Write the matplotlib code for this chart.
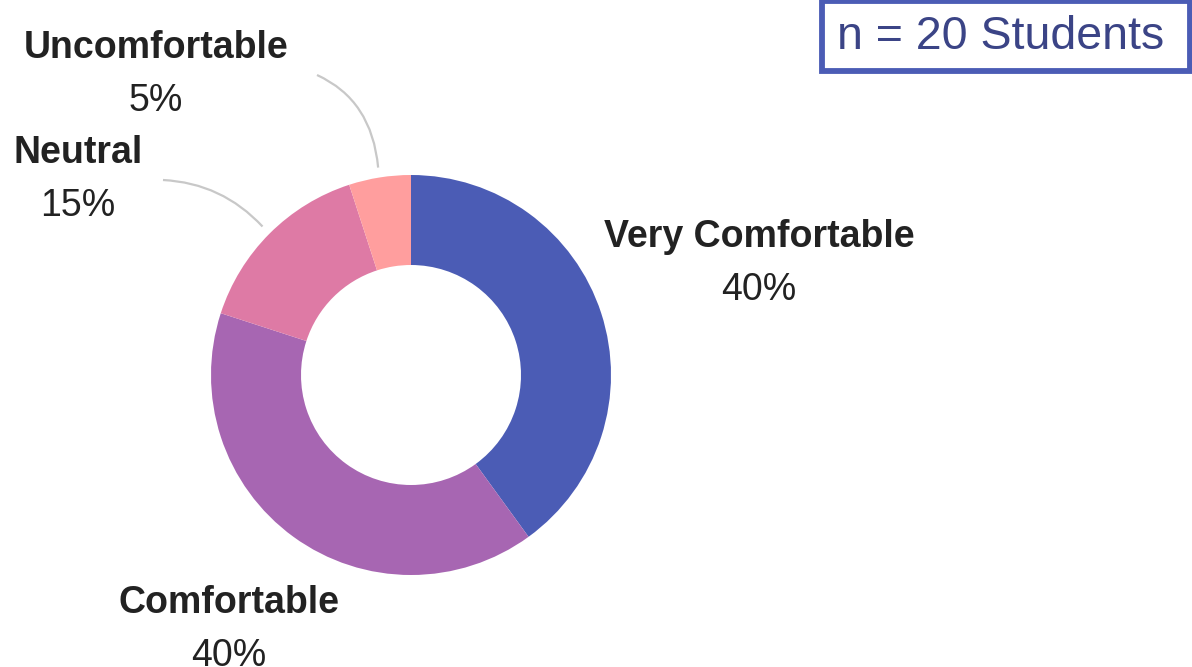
import numpy as np
import matplotlib.pyplot as plt
from matplotlib.patches import Rectangle, PathPatch
from matplotlib.path import Path

plt.rcParams['font.family'] = ['Liberation Sans', 'DejaVu Sans']

# survey data
labels = ['Very Comfortable', 'Comfortable', 'Neutral', 'Uncomfortable']
shares = [40, 40, 15, 5]
colors = ['#4B5CB5', '#A766B2', '#DE7AA5', '#FF9E9E']
n_students = 20

W, H = 1192, 667
fig = plt.figure(figsize=(W / 100, H / 100), dpi=100)
ax = fig.add_axes([0, 0, 1, 1])

cx, cy, r = 411, H - 375, 200
ax.pie(shares, colors=colors, startangle=90, counterclock=False,
       center=(cx, cy), radius=r, wedgeprops=dict(width=90, linewidth=0),
       frame=True)
ax.set_xlim(0, W)
ax.set_ylim(0, H)
ax.set_aspect('equal')
ax.axis('off')

# wedge mid angles (degrees, counterclockwise from x axis)
cum = np.cumsum([0] + shares)
mids = 90 - (cum[:-1] + cum[1:]) / 2 * 3.6

# label positions in image pixels (x center, y of name line)
label_pos = {'Very Comfortable': (759, 237), 'Comfortable': (229, 603),
             'Neutral': (78, 153), 'Uncomfortable': (156, 48)}
txt = '#222222'
for lab, s in zip(labels, shares):
    x, y = label_pos[lab]
    ax.text(x, H - y, lab, ha='center', va='center', fontsize=27,
            fontweight='bold', color=txt)
    ax.text(x, H - y - 53, f'{s}%', ha='center', va='center', fontsize=27,
            color=txt, clip_on=False)

# curved leader lines for the small slices
leaders = {'Uncomfortable': ((317, 75), (372, 100)),
           'Neutral': ((163, 180), (222, 183))}
for lab, (start, ctrl) in leaders.items():
    a = np.radians(mids[labels.index(lab)])
    end = (cx + 210 * np.cos(a), cy + 210 * np.sin(a))
    verts = [(start[0], H - start[1]), (ctrl[0], H - ctrl[1]), end]
    p = Path(verts, [Path.MOVETO, Path.CURVE3, Path.CURVE3])
    ax.add_patch(PathPatch(p, fill=False, edgecolor='#C8C8C8', lw=1.6))

# sample size box
ax.add_patch(Rectangle((821.5, H - 71), 368, 70.5, fill=False,
                       edgecolor='#4B5CB5', lw=4.2, clip_on=False))
ax.text(1001, H - 37, f'n = {n_students} Students', ha='center', va='center',
        fontsize=33.5, color='#3B4486')

fig.savefig('out.png', dpi=100)
